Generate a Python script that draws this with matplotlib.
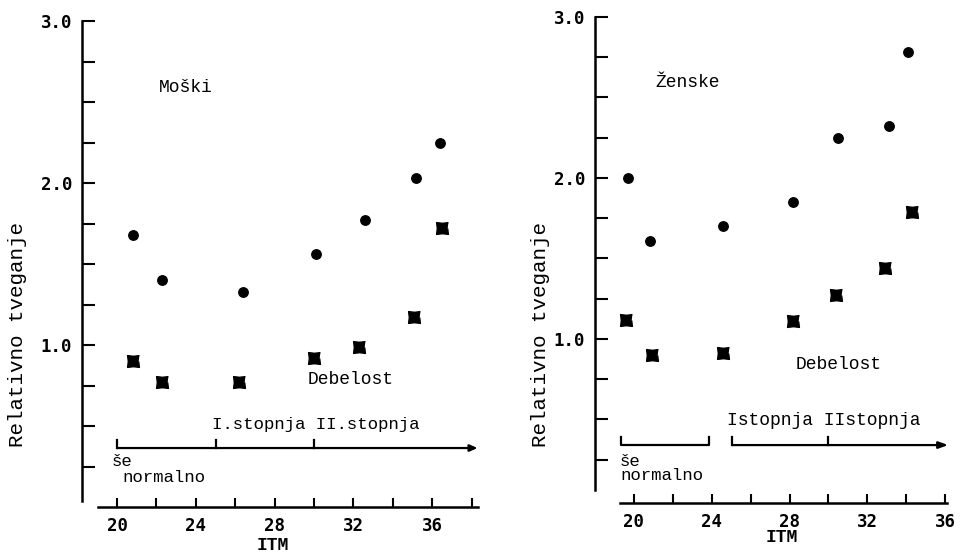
import numpy as np
import matplotlib
matplotlib.use("Agg")
import matplotlib.pyplot as plt
from matplotlib.ticker import FixedLocator

# ---------------- data ----------------
# Moški (men)
m_circ_x = [20.8, 22.3, 26.4, 30.1, 32.6, 35.2, 36.4]
m_circ_y = [1.68, 1.40, 1.33, 1.56, 1.77, 2.03, 2.25]
m_star_x = [20.8, 22.3, 26.2, 30.0, 32.3, 35.1, 36.5]
m_star_y = [0.90, 0.77, 0.77, 0.92, 0.99, 1.17, 1.72]
# Ženske (women)
z_circ_x = [19.7, 20.8, 24.6, 28.2, 30.5, 33.1, 34.1]
z_circ_y = [2.00, 1.61, 1.70, 1.85, 2.25, 2.32, 2.78]
z_star_x = [19.6, 20.9, 24.6, 28.2, 30.4, 32.9, 34.3]
z_star_y = [1.12, 0.90, 0.91, 1.11, 1.27, 1.44, 1.79]

y_major = [1.0, 2.0, 3.0]
y_major_labels = ["1.0", "2.0", "3.0"]
y_minor = [0.25, 0.5, 0.75, 1.25, 1.5, 1.75, 2.25, 2.5, 2.75]
x_labels_at = [20, 24, 28, 32, 36]
x_minor_left = [22, 26, 30, 34, 38]
x_minor_right = [22, 26, 30, 34]
bmi_bounds = [20, 25, 30]  # še normalno | I. stopnja | II. stopnja

TXT = ["Liberation Mono", "DejaVu Sans Mono"]
TCK = ["DejaVu Sans Mono"]

# custom 4-point "star" marker (square with concave sides)
ang = np.deg2rad(np.arange(45, 405, 45))
rad = np.where(np.arange(8) % 2 == 0, 1.0, 0.62)
star_verts = list(zip(rad * np.cos(ang), rad * np.sin(ang)))

fig = plt.figure(figsize=(9.62, 5.54), dpi=100)
fig.patch.set_facecolor("white")


def style_axes(ax, xlim, ylim, lbounds, bbounds, xminor):
    ax.set_xlim(*xlim)
    ax.set_ylim(*ylim)
    for s in ("top", "right"):
        ax.spines[s].set_visible(False)
    ax.spines["left"].set_bounds(*lbounds)
    ax.spines["bottom"].set_bounds(*bbounds)
    ax.spines["left"].set_linewidth(1.8)
    ax.spines["bottom"].set_linewidth(1.8)
    ax.yaxis.set_major_locator(FixedLocator(y_major))
    ax.set_yticklabels(y_major_labels, family=TCK, fontsize=12.5, fontweight="bold")
    ax.yaxis.set_minor_locator(FixedLocator(y_minor))
    ax.xaxis.set_major_locator(FixedLocator(x_labels_at))
    ax.set_xticklabels([str(v) for v in x_labels_at], family=TCK, fontsize=12.5,
                       fontweight="bold")
    ax.xaxis.set_minor_locator(FixedLocator(xminor))
    ax.tick_params(axis="y", which="both", direction="in", length=9, width=1.5, pad=7)
    ax.tick_params(axis="x", which="both", direction="in", length=6.5, width=1.5, pad=7)
    ax.set_facecolor("white")


def draw_points(ax, cx, cy, sx, sy):
    ax.plot(cx, cy, ls="none", marker="o", ms=6.8, color="black", clip_on=False)
    ax.plot(sx, sy, ls="none", marker=star_verts, ms=8.5, color="black", clip_on=False)


# ---------------- left panel: Moški ----------------
axL = fig.add_axes([82 / 962, 1 - 507 / 554, 396 / 962, 486 / 554])
style_axes(axL, (18.223, 38.325), (0.0, 3.0), (0.04, 3.0), (19.04, 38.3), x_minor_left)
draw_points(axL, m_circ_x, m_circ_y, m_star_x, m_star_y)
axL.set_xlabel("ITM", family=TXT, fontsize=13, fontweight="bold")
axL.xaxis.set_label_coords((27.9 - 18.223) / (38.325 - 18.223), -0.062)
axL.set_ylabel("Relativno tveganje", family=TXT, fontsize=15)
axL.yaxis.set_label_coords(-0.138, 0.354)

axL.text(22.1, 2.59, "Moški", family=TXT, fontsize=13, va="center", ha="left")
axL.text(29.7, 0.79, "Debelost", family=TXT, fontsize=13, va="center", ha="left")
axL.text(24.8, 0.51, "I.stopnja II.stopnja", family=TXT, fontsize=12.5, va="center", ha="left")
yA = 0.364
axL.annotate("", xy=(38.3, yA), xytext=(bmi_bounds[0], yA),
             arrowprops=dict(arrowstyle="-|>,head_length=0.45,head_width=0.2",
                             lw=1.6, color="black", shrinkA=0, shrinkB=0),
             annotation_clip=False)
for b in bmi_bounds:
    axL.plot([b, b], [yA, yA + 0.05], color="black", lw=1.6)
axL.text(19.75, 0.28, "še", family=TXT, fontsize=12.5, va="center", ha="left")
axL.text(20.25, 0.185, "normalno", family=TXT, fontsize=12.5, va="center", ha="left")

# ---------------- right panel: Ženske ----------------
axR = fig.add_axes([595 / 962, 1 - 503 / 554, 352 / 962, 486 / 554])
style_axes(axR, (17.995, 36.093), (-0.02, 3.0), (0.06, 3.0), (19.3, 36.1), x_minor_right)
draw_points(axR, z_circ_x, z_circ_y, z_star_x, z_star_y)
axR.set_xlabel("ITM", family=TXT, fontsize=13, fontweight="bold")
axR.xaxis.set_label_coords((27.6 - 17.995) / (36.093 - 17.995), -0.054)
axR.set_ylabel("Relativno tveganje", family=TXT, fontsize=15)
axR.yaxis.set_label_coords(-0.128, 0.346)

axR.text(21.1, 2.59, "Ženske", family=TXT, fontsize=13, va="center", ha="left")
axR.text(28.3, 0.84, "Debelost", family=TXT, fontsize=13, va="center", ha="left")
axR.text(24.8, 0.49, "Istopnja IIstopnja", family=TXT, fontsize=13, va="center", ha="left")
yB = 0.34
# bracket for "še normalno"
axR.plot([19.33, 19.33, 23.86, 23.86], [yB + 0.05, yB, yB, yB + 0.05], color="black", lw=1.6)
# arrow for obesity grades
axR.annotate("", xy=(36.15, yB), xytext=(25.04, yB),
             arrowprops=dict(arrowstyle="-|>,head_length=0.55,head_width=0.2",
                             lw=1.6, color="black", shrinkA=0, shrinkB=0),
             annotation_clip=False)
axR.plot([25.04, 25.04], [yB, yB + 0.05], color="black", lw=1.6)
axR.plot([bmi_bounds[2], bmi_bounds[2]], [yB, yB + 0.05], color="black", lw=1.6)
axR.text(19.28, 0.24, "še", family=TXT, fontsize=12.5, va="center", ha="left")
axR.text(19.28, 0.15, "normalno", family=TXT, fontsize=12.5, va="center", ha="left")

fig.savefig("out.png", dpi=100, facecolor="white")
